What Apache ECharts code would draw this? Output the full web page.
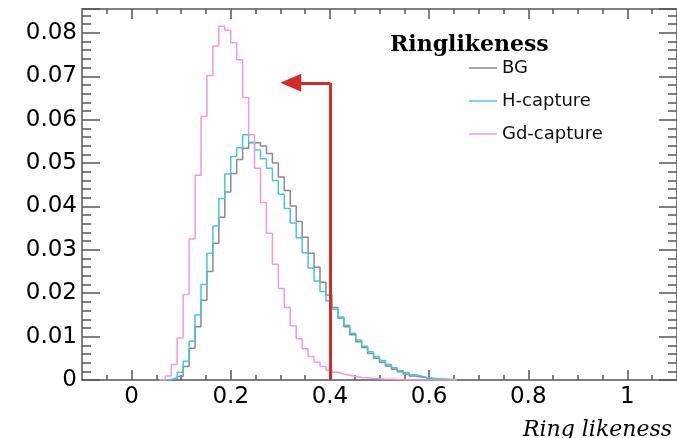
<!DOCTYPE html>
<html>
<head>
<meta charset="utf-8">
<script src="https://cdn.jsdelivr.net/npm/echarts@6/dist/echarts.min.js"></script>
<style>
html,body{margin:0;padding:0;background:#fff;}
#chart{width:677px;height:438px;}
</style>
</head>
<body>
<div id="chart"></div>
<script>
// Histogram binning (ROOT-style): 100 bins from -0.1 to 1.1; values listed from the bin starting at 0.056
const histMin = -0.1;
const binWidth = 0.012;
const firstBin = 13;

const bgValues = [0, 0, 0.0003, 0.0008, 0.0031, 0.0073, 0.0123, 0.0184, 0.0250, 0.0315,
  0.0375, 0.0433, 0.0476, 0.0508, 0.0534, 0.0547, 0.0547, 0.0539, 0.0522, 0.0500,
  0.0468, 0.0437, 0.0401, 0.0365, 0.0329, 0.0292, 0.0260, 0.0225, 0.0196, 0.0167,
  0.0143, 0.0123, 0.0104, 0.0088, 0.0075, 0.0061, 0.0050, 0.0041, 0.0032, 0.0025,
  0.0019, 0.0014, 0.0009, 0.0007, 0.0005, 0.0003, 0.0002, 0.00015, 0.0001, 0];

const hValues = [0, 0.0001, 0.0005, 0.0018, 0.0043, 0.0090, 0.0150, 0.0220, 0.0292, 0.0355,
  0.0418, 0.0475, 0.0515, 0.0535, 0.0565, 0.0548, 0.0530, 0.0510, 0.0488, 0.0460,
  0.0428, 0.0395, 0.0362, 0.0328, 0.0293, 0.0258, 0.0228, 0.0204, 0.0182, 0.0163,
  0.0145, 0.0126, 0.0108, 0.0092, 0.0078, 0.0065, 0.0054, 0.0045, 0.0036, 0.0028,
  0.0022, 0.0017, 0.0012, 0.0009, 0.0006, 0.0004, 0.0003, 0.0002, 0.0001, 0.0001];

const gdValues = [0, 0.0009, 0.0036, 0.0097, 0.0197, 0.0325, 0.0472, 0.0607, 0.0702, 0.0770,
  0.0815, 0.0806, 0.0777, 0.0738, 0.0651, 0.0565, 0.0488, 0.0409, 0.0338, 0.0267,
  0.0211, 0.0167, 0.0125, 0.0095, 0.0072, 0.0054, 0.0041, 0.0031, 0.0023, 0.0018,
  0.0014, 0.0011, 0.0008, 0.0006, 0.0005, 0.0004, 0.0003, 0.0002, 0.00015, 0.0001,
  0.0001, 0, 0, 0, 0, 0, 0, 0, 0, 0];

const seriesNames = ['BG', 'H-capture', 'Gd-capture'];
const seriesColors = ['#8a8a8a', '#45c6da', '#f19ad6'];

const xMajorTicks = [0, 0.2, 0.4, 0.6, 0.8, 1.0];
const xMinorTicks = [-0.05, 0.05, 0.1, 0.15, 0.25, 0.3, 0.35, 0.45, 0.5, 0.55, 0.65, 0.7, 0.75, 0.85, 0.9, 0.95, 1.05];
const yMax = 0.0855;

// Cut annotation: vertical line at 0.4 and arrow pointing left
const cutX = 0.4;
const arrowY = 0.0685;
const arrowHeadX = 0.321;

function histPoints(values) {
  const pts = values.map((v, i) => [histMin + (firstBin + i) * binWidth, v]);
  pts.push([histMin + (firstBin + values.length) * binWidth, 0]);
  return pts;
}

const tickColor = '#555';
function xAxisDef(pos, ticks, len, withLabels) {
  return {
    type: 'value', position: pos, min: -0.1, max: 1.1,
    splitLine: {show: false}, axisLine: {show: false, onZero: false},
    axisTick: {show: true, inside: true, length: len, customValues: ticks,
      lineStyle: {color: tickColor, width: 1.5}},
    axisLabel: withLabels ? {
      show: true, customValues: ticks, margin: 6,
      fontFamily: 'DejaVu Sans', fontSize: 23, color: '#000',
      formatter: v => (Math.abs(v) < 1e-9 ? '0' : String(Math.round(v * 10) / 10))
    } : {show: false}
  };
}
function yAxisDef(pos, interval, len, withLabels) {
  return {
    type: 'value', position: pos, min: 0, max: yMax, interval: interval,
    splitLine: {show: false}, axisLine: {show: false, onZero: false},
    axisTick: {show: true, inside: true, length: len, lineStyle: {color: tickColor, width: 1.5}},
    axisLabel: withLabels ? {
      show: true, margin: 5,
      fontFamily: 'DejaVu Sans', fontSize: 23, color: '#000',
      formatter: v => {
        const r = Math.round(v * 100);
        if (Math.abs(v * 100 - r) > 1e-6) return '';
        return r === 0 ? '0' : (r / 100).toFixed(2);
      }
    } : {show: false}
  };
}

const chart = echarts.init(document.getElementById('chart'), null, {renderer: 'canvas'});

const series = [bgValues, hValues, gdValues].map((vals, i) => ({
  name: seriesNames[i], type: 'line', step: 'end',
  data: histPoints(vals), symbol: 'none', showSymbol: false,
  lineStyle: {color: seriesColors[i], width: 1.5},
  itemStyle: {color: seriesColors[i]},
  animation: false, silent: true
}));

series.push({
  name: 'cut', type: 'line', data: [], symbol: 'none', animation: false, silent: true,
  markLine: {
    silent: true, animation: false,
    label: {show: false},
    lineStyle: {color: '#d62a2a', width: 3, type: 'solid'},
    data: [
      [{coord: [cutX, 0], symbol: 'none'}, {coord: [cutX, arrowY], symbol: 'none'}],
      [{coord: [cutX, arrowY], symbol: 'none'}, {coord: [arrowHeadX, arrowY], symbol: 'triangle', symbolSize: [18, 21]}]
    ]
  }
});

chart.setOption({
  animation: false,
  backgroundColor: '#fff',
  grid: {left: 82, right: -3, top: 9, bottom: 58, show: true, borderColor: '#555', borderWidth: 1.5, backgroundColor: 'transparent'},
  title: [
    {text: 'Ringlikeness', left: 385, top: 29,
      textStyle: {fontFamily: 'DejaVu Serif', fontWeight: 'bold', fontSize: 22, color: '#000'}},
    {text: 'Ring likeness', right: 0, top: 414,
      textStyle: {fontFamily: 'DejaVu Serif', fontStyle: 'italic', fontWeight: 'normal', fontSize: 22, color: '#000'}}
  ],
  legend: {
    data: seriesNames.map((n, i) => ({name: n, icon: 'rect', itemStyle: {color: seriesColors[i], opacity: 0.75}})),
    orient: 'vertical', left: 464, top: 53,
    itemWidth: 28, itemHeight: 2, itemGap: 13,
    textStyle: {fontFamily: 'DejaVu Sans', fontSize: 18, color: '#111', lineHeight: 20},
    selectedMode: false
  },
  xAxis: [
    xAxisDef('bottom', xMajorTicks, 10, true),
    xAxisDef('bottom', xMinorTicks, 5, false),
    xAxisDef('top', xMajorTicks, 10, false),
    xAxisDef('top', xMinorTicks, 5, false)
  ],
  yAxis: [
    yAxisDef('left', 0.01, 18, true),
    yAxisDef('left', 0.002, 9, false),
    yAxisDef('right', 0.01, 18, false),
    yAxisDef('right', 0.002, 9, false)
  ],
  series: series
});
</script>
</body>
</html>
